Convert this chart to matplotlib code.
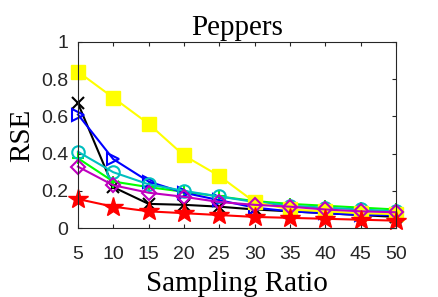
import matplotlib.pyplot as plt

# sampling ratios and RSE of each method
ratios = [5, 10, 15, 20, 25, 30, 35, 40, 45, 50]
rse_black = [0.67, 0.22, 0.13, 0.125, 0.115, 0.10, 0.09, 0.08, 0.07, 0.06]
rse_green = [0.375, 0.25, 0.22, 0.195, 0.17, 0.145, 0.13, 0.12, 0.11, 0.10]
rse_blue = [0.61, 0.37, 0.25, 0.19, 0.15, 0.11, 0.09, 0.08, 0.07, 0.07]
rse_cyan = [0.41, 0.30, 0.235, 0.20, 0.17, 0.14, 0.12, 0.11, 0.10, 0.09]
rse_magenta = [0.33, 0.23, 0.19, 0.168, 0.14, 0.125, 0.115, 0.10, 0.09, 0.085]
rse_yellow = [0.84, 0.70, 0.56, 0.39, 0.28, 0.14, 0.10, 0.09, 0.08, 0.075]
rse_red = [0.156, 0.115, 0.09, 0.08, 0.07, 0.06, 0.055, 0.05, 0.045, 0.04]

xticks = [5, 10, 15, 20, 25, 30, 35, 40, 45, 50]
yticks = [0, 0.2, 0.4, 0.6, 0.8, 1]
ytick_labels = ['0', '0.2', '0.4', '0.6', '0.8', '1']

fig = plt.figure(figsize=(4.38, 2.97), dpi=100)
ax = fig.add_axes([0.178, 0.232, 0.726, 0.627])

lw = 1.5
# markers are not clipped at the axes edge, as in the original
ax.plot(ratios, rse_black, color='k', marker='x', ms=8, mew=1.5, lw=lw, clip_on=False)
ax.plot(ratios, rse_green, color=(0, 1, 0), marker='+', ms=9, mew=1.5, lw=lw, clip_on=False)
ax.plot(ratios, rse_blue, color='b', marker='>', ms=9, mew=1.5, mfc='none', lw=lw, clip_on=False)
ax.plot(ratios, rse_cyan, color='c', marker='o', ms=9, mew=1.5, mfc='none', lw=lw, clip_on=False)
ax.plot(ratios, rse_yellow, color=(1, 1, 0), marker='s', ms=9.5, mfc=(1, 1, 0), lw=lw, clip_on=False)
ax.plot(ratios, rse_magenta, color='m', marker='D', ms=7, mew=1.5, mfc='none', lw=lw, clip_on=False)
ax.plot(ratios, rse_red, color='r', marker='*', ms=15, mfc='r', lw=lw, clip_on=False)

ax.set_xlim(5, 50)
ax.set_ylim(0, 1)
ax.set_xticks(xticks)
ax.set_yticks(yticks)
ax.set_yticklabels(ytick_labels)
ax.tick_params(direction='in', top=True, right=True, length=3, width=0.8,
               labelsize=14, colors='#262626')
ax.tick_params(axis='x', pad=13)
ax.tick_params(axis='y', pad=7)
for lab in ax.get_xticklabels() + ax.get_yticklabels():
    lab.set_family('Liberation Sans')
for s in ax.spines.values():
    s.set_color('#262626')
    s.set_linewidth(0.8)

ax.set_title('Peppers', family='Liberation Serif', fontsize=21, pad=5)
ax.set_xlabel('Sampling Ratio', family='Liberation Serif', fontsize=21, labelpad=6)
ax.set_ylabel('RSE', family='Liberation Serif', fontsize=21, labelpad=4)

fig.savefig('out.png', dpi=100)
